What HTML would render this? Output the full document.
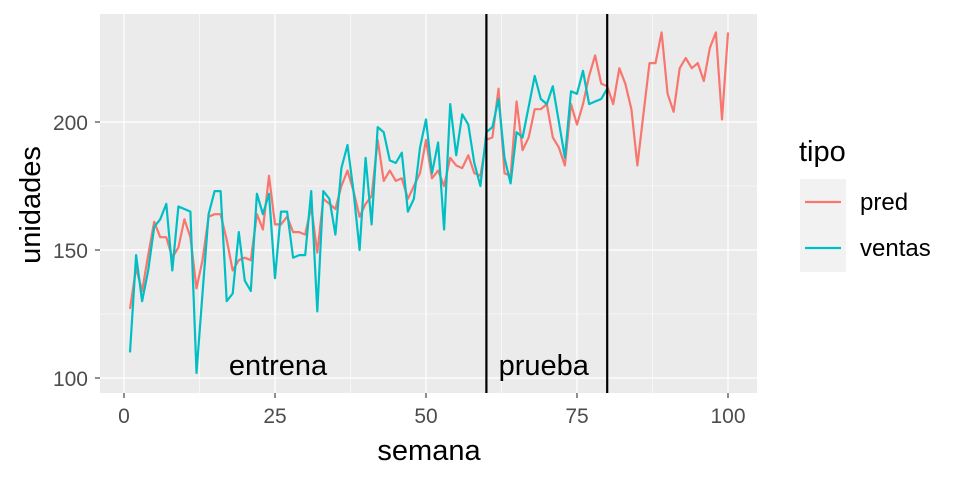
<!DOCTYPE html>
<html><head><meta charset="utf-8"><style>
body{margin:0;background:#fff}
svg{display:block;font-family:"Liberation Sans",sans-serif}
</style></head><body>
<svg id="chart" width="960" height="480" viewBox="0 0 960 480">
<rect x="100" y="14" width="657" height="379" fill="#EBEBEB"/>
<g id="grid"></g>
<g id="series"></g>
<g id="vlines"></g>
<g id="axes"></g>
<text x="429" y="460" font-size="29" text-anchor="middle" fill="#000">semana</text>
<text x="0" y="0" font-size="29" text-anchor="middle" fill="#000" transform="translate(40,205) rotate(-90)">unidades</text>
<g>
<text x="799" y="161" font-size="29" fill="#000">tipo</text>
<rect x="800" y="179" width="46" height="93" fill="#F2F2F2"/>
<line x1="805" x2="841" y1="202" y2="202" stroke="#F8766D" stroke-width="2.2"/>
<line x1="805" x2="841" y1="248" y2="248" stroke="#00BFC4" stroke-width="2.2"/>
<text x="860" y="210" font-size="24" fill="#000">pred</text>
<text x="860" y="256" font-size="24" fill="#000">ventas</text>
</g>
</svg>
<script>
const xTicks=[0,25,50,75,100];
const yTicks=[100,150,200];
const pred=[127,143,134,148,161,155,155,147,151,162,155,135,146,163,164,164,154,142,146,147,146,164,158,179,160,160,163,157,157,156,167,149,170,168,166,175,181,173,163,168,171,193,177,181,177,178,170,175,180,193,178,181,175,186,183,182,187,180,179,193,194,213,180,179,208,189,194,205,205,207,194,190,183,207,199,207,218,226,215,214,207,221,215,205,183,203,223,223,235,211,204,221,225,221,223,216,229,235,201,235];
const ventas=[110,148,130,142,159,162,168,142,167,166,165,102,133,164,173,173,130,133,157,138,134,172,164,172,139,165,165,147,148,148,173,126,173,170,156,182,191,173,150,186,160,198,196,185,184,188,165,170,190,201,180,192,158,207,187,203,199,184,175,196,198,209,186,176,196,194,206,218,209,207,214,200,186,212,211,220,207,208,209,213];
const periods=[60,80];
const periodLabels=["entrena","prueba"];
const periodLabelX=[25.5,69.5];
const NS="http://www.w3.org/2000/svg";
const X0=100,X1=757,Y0=14,Y1=393;
const xs=v=>124+v*(728-124)/100;
const ys=v=>378-(v-100)*(378-122)/100;
function mk(tag,attrs,parent){const e=document.createElementNS(NS,tag);for(const k in attrs)e.setAttribute(k,attrs[k]);parent.appendChild(e);return e;}
const grid=document.getElementById('grid');
for(let i=0;i<xTicks.length-1;i++){const m=(xTicks[i]+xTicks[i+1])/2;const l=mk('line',{x1:xs(m),x2:xs(m),y1:Y0,y2:Y1,stroke:'#fff','stroke-width':0.6},grid);

}
for(let i=0;i<yTicks.length-1;i++){const m=(yTicks[i]+yTicks[i+1])/2;const l=mk('line',{x1:X0,x2:X1,y1:ys(m),y2:ys(m),stroke:'#fff','stroke-width':0.6},grid);

}
const axes=document.getElementById('axes');
xTicks.forEach(t=>{const l=mk('line',{x1:xs(t),x2:xs(t),y1:Y0,y2:Y1,stroke:'#fff','stroke-width':1.2},grid);


const tk=mk('line',{x1:xs(t),x2:xs(t),y1:Y1,y2:Y1+5,stroke:'#333','stroke-width':1.1},axes);


const tx=mk('text',{x:xs(t),y:423,'font-size':21,fill:'#4D4D4D','text-anchor':'middle'},axes);tx.textContent=t;

});
yTicks.forEach(t=>{const l=mk('line',{x1:X0,x2:X1,y1:ys(t),y2:ys(t),stroke:'#fff','stroke-width':1.2},grid);


const tk=mk('line',{x1:X0-5,x2:X0,y1:ys(t),y2:ys(t),stroke:'#333','stroke-width':1.1},axes);


const tx=mk('text',{x:88,y:ys(t)+8,'font-size':21,fill:'#4D4D4D','text-anchor':'end'},axes);tx.textContent=t;

});
const series=document.getElementById('series');
function line(arr,color,name){const d=arr.map((v,i)=>(i?'L':'M')+xs(i+1).toFixed(1)+','+ys(v).toFixed(1)).join('');
const p=mk('path',{d:d,fill:'none',stroke:color,'stroke-width':2.2,'stroke-linejoin':'round'},series);

}
line(pred,'#F8766D','pred-line');
line(ventas,'#00BFC4','ventas-line');
const vl=document.getElementById('vlines');
periods.forEach((p,i)=>{const l=mk('line',{x1:xs(p),x2:xs(p),y1:Y0,y2:Y1,stroke:'#000','stroke-width':2.2},vl);


const t=mk('text',{x:xs(periodLabelX[i]),y:375,'font-size':29,fill:'#000','text-anchor':'middle'},vl);t.textContent=periodLabels[i];

});
</script>
</body></html>
